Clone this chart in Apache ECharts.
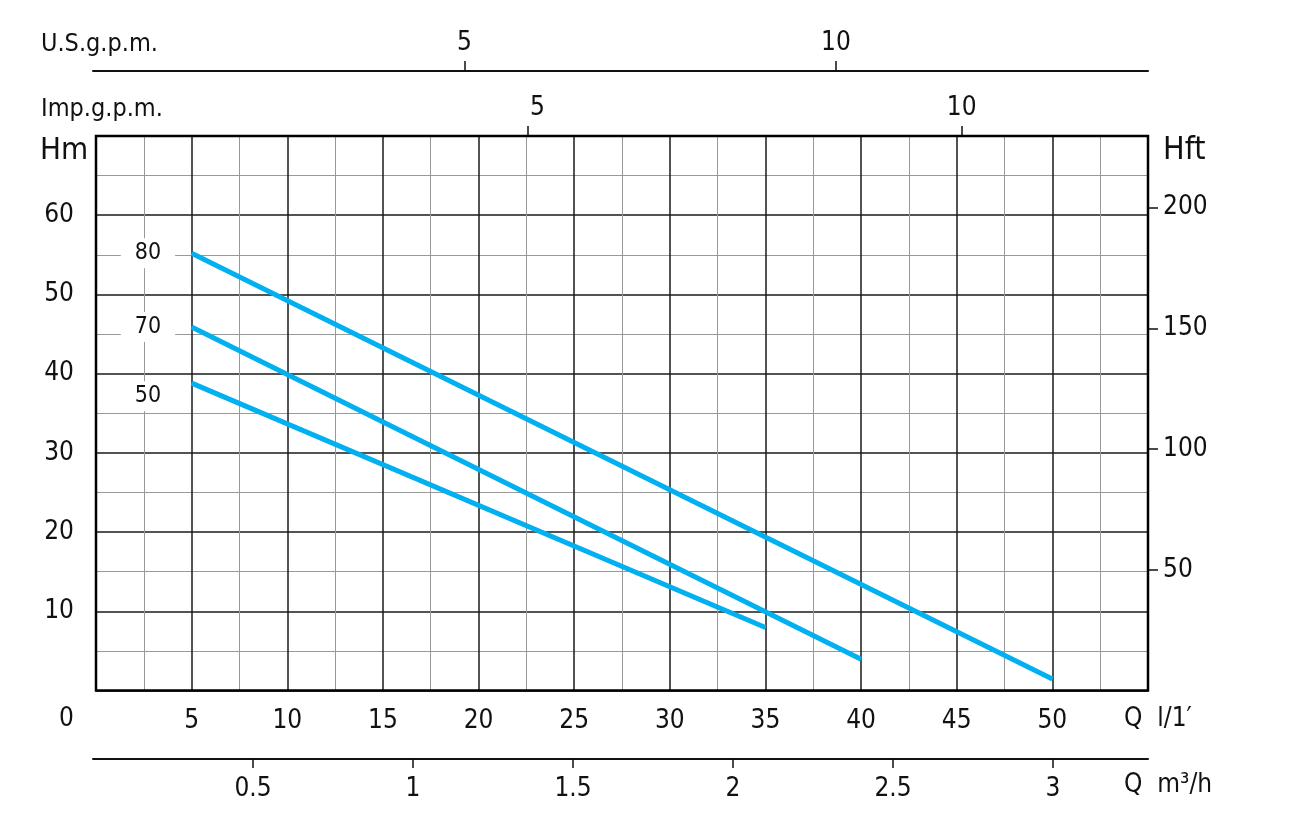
<!DOCTYPE html>
<html>
<head>
<meta charset="utf-8">
<script src="https://cdn.jsdelivr.net/npm/echarts@6/dist/echarts.min.js"></script>
<style>
html,body{margin:0;padding:0;background:#fff;}
#chart{width:1299px;height:840px;}
</style>
</head>
<body>
<div id="chart"></div>
<script>
// ---- data ----
const curveNames = ['80', '70', '50'];
const q80 = [5, 50];
const h80 = [55.2, 1.45];
const q70 = [5, 40];
const h70 = [45.9, 3.95];
const q50 = [5, 35];
const h50 = [38.8, 7.95];
const lpmLabels = [5, 10, 15, 20, 25, 30, 35, 40, 45, 50];
const hmLabels = [10, 20, 30, 40, 50, 60];
const hftTicks = [50, 100, 150, 200];
const usGpmTicks = [5, 10];
const impGpmTicks = [5, 10];
const m3hTicks = [0.5, 1, 1.5, 2, 2.5, 3];

const FONT = "'DejaVu Sans Condensed', 'Liberation Sans Narrow', 'DejaVu Sans', sans-serif";
const TXT = '#111';
const LINE_COLOR = '#00B0F0';

function pairs(xs, ys) { return xs.map((x, i) => [x, ys[i]]); }

function curve(name, xs, ys, labelOffsetY) {
  const d = pairs(xs, ys).map((p, i) => {
    const item = { value: p };
    if (i === 0) {
      item.label = {
        show: true, formatter: name, position: 'left', distance: 16,
        offset: [0, labelOffsetY],
        backgroundColor: '#fff', padding: [3, 14], lineHeight: 24,
        fontFamily: FONT, fontSize: 23, color: TXT
      };
    }
    return item;
  });
  return {
    type: 'line', name: name, xAxisIndex: 0, yAxisIndex: 0, data: d,
    symbol: 'circle', symbolSize: 1, showSymbol: true,
    itemStyle: { color: LINE_COLOR },
    lineStyle: { color: LINE_COLOR, width: 5 },
    label: { show: false }, z: 3, silent: true
  };
}

const chart = echarts.init(document.getElementById('chart'), null, { renderer: 'canvas' });

const option = {
  animation: false,
  backgroundColor: '#fff',
  textStyle: { fontFamily: FONT, color: TXT },
  grid: [
    { left: 96, right: 151, top: 136, bottom: 149.5, show: true, borderColor: '#000', borderWidth: 2.5, backgroundColor: 'transparent', z: 4 },
    { left: 93, width: 1055, top: 71, height: 10 },
    { left: 93, width: 1055, top: 136, height: 10 },
    { left: 93, width: 1055, top: 749, height: 10 }
  ],
  xAxis: [
    {
      gridIndex: 0, type: 'value', min: 0, max: 55, interval: 5, position: 'bottom',
      axisLine: { show: false }, axisTick: { show: false },
      axisLabel: { customValues: lpmLabels, fontFamily: FONT, fontSize: 26, color: TXT, margin: 18 },
      splitLine: { show: true, lineStyle: { color: '#1a1a1a', width: 1.5 } },
      minorTick: { show: false, splitNumber: 2 },
      minorSplitLine: { show: true, lineStyle: { color: '#999', width: 1 } }
    },
    {
      gridIndex: 1, type: 'value', min: 0, max: 14.2, position: 'top',
      axisLine: { show: true, onZero: false, lineStyle: { color: '#111', width: 2 } },
      axisTick: { show: true, customValues: usGpmTicks, length: 10, lineStyle: { color: '#111', width: 1.5 } },
      axisLabel: { customValues: usGpmTicks, fontFamily: FONT, fontSize: 26, color: TXT, margin: 15 },
      splitLine: { show: false }
    },
    {
      gridIndex: 2, type: 'value', min: 0, max: 12.145, position: 'top',
      axisLine: { show: false, onZero: false },
      axisTick: { show: true, customValues: impGpmTicks, length: 10, lineStyle: { color: '#111', width: 1.5 } },
      axisLabel: {
        customValues: impGpmTicks, fontFamily: FONT, fontSize: 26, color: TXT, margin: 15,
        formatter: v => (v === 5 ? '{s|5}' : String(v)),
        rich: { s: { padding: [0, 0, 0, 20], fontFamily: FONT, fontSize: 26, color: TXT } }
      },
      splitLine: { show: false }
    },
    {
      gridIndex: 3, type: 'value', min: 0, max: 3.297, position: 'bottom',
      axisLine: { show: true, onZero: false, lineStyle: { color: '#111', width: 2 } },
      axisTick: { show: true, customValues: m3hTicks, length: 9, lineStyle: { color: '#111', width: 1.5 } },
      axisLabel: { customValues: m3hTicks, fontFamily: FONT, fontSize: 26, color: TXT, margin: 17 },
      splitLine: { show: false }
    }
  ],
  yAxis: [
    {
      gridIndex: 0, type: 'value', min: 0, max: 70, interval: 10, position: 'left',
      axisLine: { show: false }, axisTick: { show: false },
      axisLabel: { customValues: hmLabels, fontFamily: FONT, fontSize: 26, color: TXT, margin: 22 },
      splitLine: { show: true, lineStyle: { color: '#1a1a1a', width: 1.5 } },
      minorTick: { show: false, splitNumber: 2 },
      minorSplitLine: { show: true, lineStyle: { color: '#999', width: 1 } }
    },
    {
      gridIndex: 0, type: 'value', min: 0, max: 229.66, position: 'right',
      axisLine: { show: false },
      axisTick: { show: true, customValues: hftTicks, length: 10, lineStyle: { color: '#111', width: 1.5 } },
      axisLabel: { customValues: hftTicks, fontFamily: FONT, fontSize: 26, color: TXT, margin: 15 },
      splitLine: { show: false }
    },
    { gridIndex: 1, type: 'value', show: false },
    { gridIndex: 2, type: 'value', show: false },
    { gridIndex: 3, type: 'value', show: false }
  ],
  graphic: [
    { type: 'text', left: 41, top: 32, style: { text: 'U.S.g.p.m.', font: '25px ' + FONT, fill: TXT } },
    { type: 'text', left: 41, top: 97, style: { text: 'Imp.g.p.m.', font: '25px ' + FONT, fill: TXT } },
    { type: 'text', left: 40, top: 135, style: { text: 'Hm', font: '31px ' + FONT, fill: TXT } },
    { type: 'text', left: 1163, top: 135, style: { text: 'Hft', font: '32px ' + FONT, fill: TXT } },
    { type: 'text', left: 59, top: 706, style: { text: '0', font: '26px ' + FONT, fill: TXT } },
    { type: 'text', left: 1124, top: 706, style: { text: 'Q  l/1\u2032', font: '26px ' + FONT, fill: TXT } },
    { type: 'text', left: 1124, top: 772, style: { text: 'Q  m\u00B3/h', font: '26px ' + FONT, fill: TXT } }
  ],
  series: [
    curve(curveNames[0], q80, h80, 0),
    curve(curveNames[1], q70, h70, 0),
    curve(curveNames[2], q50, h50, 13)
  ]
};

chart.setOption(option);
</script>
</body>
</html>
